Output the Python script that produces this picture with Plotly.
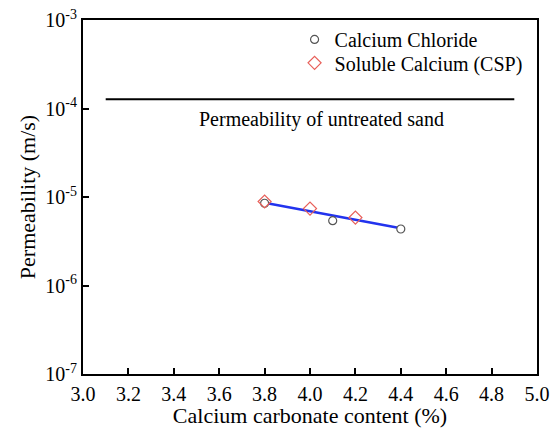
import plotly.graph_objects as go

# Data
cacl_x = [3.8, 4.1, 4.4]
cacl_y = [8.5e-6, 5.4e-6, 4.35e-6]
csp_x = [3.8, 4.0, 4.2]
csp_y = [8.9e-6, 7.4e-6, 5.85e-6]
fit_x = [3.8, 4.4]
fit_y = [8.6e-6, 4.43e-6]
untreated_x = [3.1, 4.9]
untreated_y = [1.27e-4, 1.27e-4]
x_ticks = [3.0, 3.2, 3.4, 3.6, 3.8, 4.0, 4.2, 4.4, 4.6, 4.8, 5.0]
y_ticks = [1e-7, 1e-6, 1e-5, 1e-4, 1e-3]
y_ticktext = ["10<sup>-7</sup>", "10<sup>-6</sup>", "10<sup>-5</sup>", "10<sup>-4</sup>", "10<sup>-3</sup>"]

FONT = "Liberation Serif"

fig = go.Figure()
fig.add_trace(go.Scatter(x=untreated_x, y=untreated_y, mode="lines",
                         line=dict(color="black", width=2), showlegend=False, hoverinfo="skip"))
fig.add_trace(go.Scatter(x=fit_x, y=fit_y, mode="lines",
                         line=dict(color="#2233ee", width=2.5), showlegend=False))
fig.add_trace(go.Scatter(x=cacl_x, y=cacl_y, mode="markers", name="Calcium Chloride",
                         legend="legend",
                         marker=dict(symbol="circle", size=8, color="white",
                                     line=dict(color="#555555", width=1.2))))
fig.add_trace(go.Scatter(x=csp_x, y=csp_y, mode="markers", name="Soluble Calcium (CSP)",
                         legend="legend2",
                         marker=dict(symbol="diamond", size=10, color="rgba(255,255,255,0)",
                                     line=dict(color="#e8605a", width=1.2))))

fig.add_annotation(x=4.05, y=-4.12, xref="x", yref="y",
                   text="Permeability of untreated sand", showarrow=False,
                   font=dict(family=FONT, size=20, color="black"))

leg_common = dict(x=0.466, xanchor="left", yanchor="middle",
                  bgcolor="rgba(0,0,0,0)", font=dict(family=FONT, size=20, color="black"),
                  itemsizing="trace")

fig.update_layout(
    width=557, height=428,
    margin=dict(l=83, r=20, t=20, b=54),
    paper_bgcolor="white", plot_bgcolor="white",
    font=dict(family=FONT, size=20, color="black"),
    legend=dict(y=0.945, **leg_common),
    legend2=dict(y=0.879, **leg_common),
    xaxis=dict(range=[3.0, 5.0], tickvals=x_ticks, ticktext=[f"{v:.1f}" for v in x_ticks],
               ticks="inside", ticklen=6, tickwidth=2, tickcolor="black",
               showline=True, linecolor="black", linewidth=2, mirror=True,
               showgrid=False, zeroline=False, ticklabelstandoff=1, automargin=False,
               tickfont=dict(family=FONT, size=20),
               title=dict(text="Calcium carbonate content (%)", standoff=0,
                          font=dict(family=FONT, size=22))),
    yaxis=dict(type="log", range=[-7, -3], tickvals=y_ticks, ticktext=y_ticktext,
               ticks="inside", ticklen=6, tickwidth=2, tickcolor="black",
               showline=True, linecolor="black", linewidth=2, mirror=True,
               showgrid=False, zeroline=False, automargin=False,
               tickfont=dict(family=FONT, size=20),
               title=dict(text="Permeability (m/s)", standoff=4,
                          font=dict(family=FONT, size=22))),
)

fig.write_html("out.html")
